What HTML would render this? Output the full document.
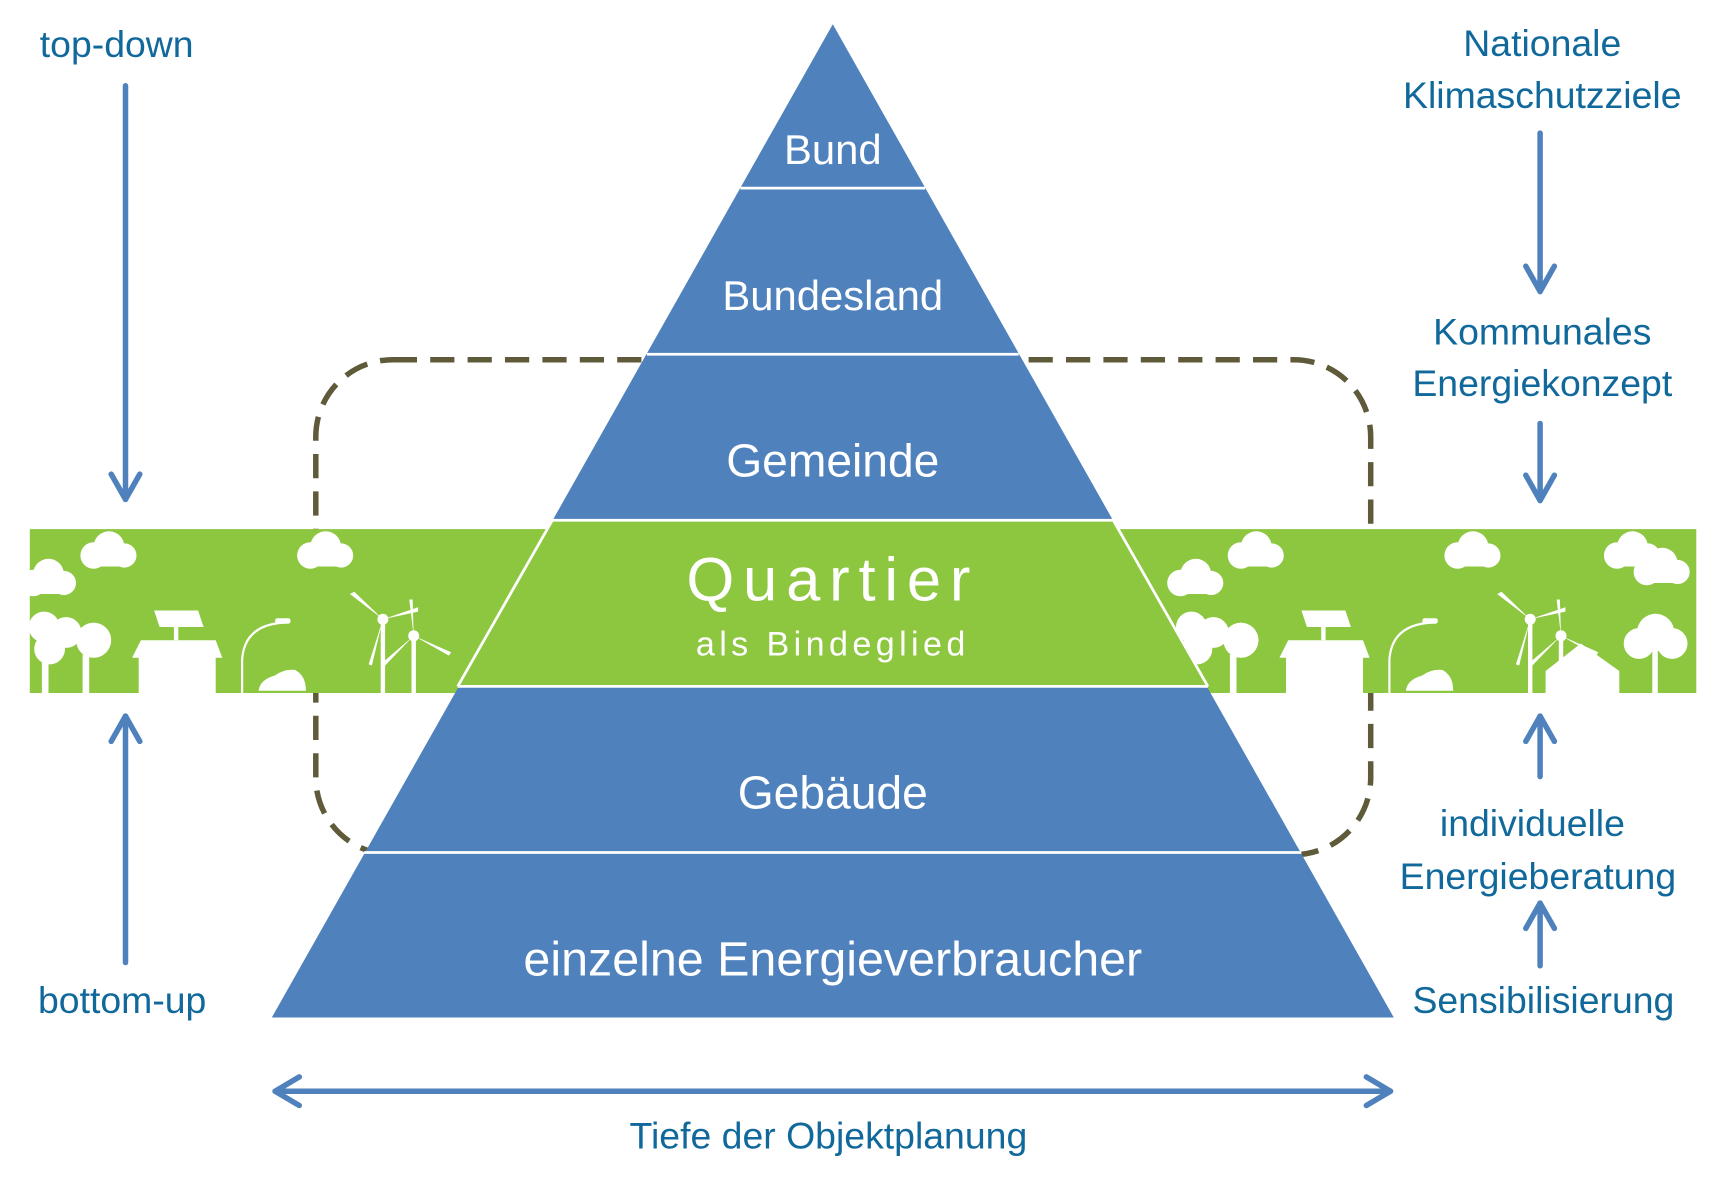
<!DOCTYPE html>
<html><head><meta charset="utf-8"><style>
html,body{margin:0;padding:0;background:#fff;}
svg{display:block;}
text{font-family:"Liberation Sans",sans-serif;}
.t{fill:#10689b;font-size:34px;text-anchor:middle;}
.w{fill:#fff;text-anchor:middle;}
</style></head><body>
<svg width="1725" height="1188" viewBox="0 0 1568 1080" xmlns="http://www.w3.org/2000/svg">
<defs>
<g id="cloud" fill="#fff"><circle cx="0" cy="0" r="12"/><circle cx="14" cy="-8" r="14"/><circle cx="28" cy="0" r="11"/><rect x="-10" y="-2" width="46" height="12" rx="6"/></g>
<g id="scene" fill="#fff">
<use href="#cloud" x="85" y="505"/><use href="#cloud" x="282" y="505"/><use href="#cloud" x="30" y="530"/>
<circle cx="40" cy="570" r="14"/><circle cx="60" cy="575" r="14"/><circle cx="85" cy="582" r="16"/><circle cx="45" cy="590" r="14"/>
<rect x="38" y="590" width="6" height="40"/><rect x="75" y="595" width="6" height="35"/>
<polygon points="128,582 196,582 202,598 196,598 196,630 126,630 126,598 120,598"/>
<rect x="158" y="566" width="4" height="16"/><polygon points="140,555 180,555 185,570 145,570"/>
<path d="M220 630 V600 Q222 568 258 566" stroke="#fff" stroke-width="2" fill="none"/><rect x="250" y="562" width="14" height="5" rx="2"/>
<path d="M235 628 Q236 618 250 614 Q258 608 268 609 Q278 614 278 628 Z"/>
<circle cx="348" cy="563" r="5"/><rect x="346" y="563" width="4" height="67"/>
<polygon points="348,563 318,540 322,538"/><polygon points="348,563 380,552 380,556"/><polygon points="348,563 338,605 335,604"/>
<circle cx="376" cy="578" r="5"/><rect x="374" y="578" width="4" height="52"/>
<polygon points="376,578 372,545 375,545"/><polygon points="376,578 410,593 408,596"/><polygon points="376,578 350,605 348,602"/>
</g>
</defs>
<rect x="287" y="327" width="959" height="450" rx="70" fill="none" stroke="#5f5a3a" stroke-width="5" stroke-dasharray="22 12"/>
<rect x="27" y="481" width="1515" height="149" fill="#8dc63f"/>
<use href="#scene"/>
<g transform="translate(1043,0)"><use href="#scene"/></g>
<use href="#cloud" x="1470" y="505"/><use href="#cloud" x="1497" y="520"/>
<g fill="#fff"><polygon points="1405,610 1437,585 1472,610 1472,630 1405,630"/><circle cx="1505" cy="575" r="17"/><circle cx="1490" cy="585" r="14"/><circle cx="1520" cy="585" r="14"/><rect x="1502" y="590" width="5" height="40"/></g>
<polygon points="757,22 247,925 1267,925" fill="#4f81bd"/>
<polygon points="502,473 1012,473 1098,624 416,624" fill="#8dc63f"/>
<g stroke="#fff" stroke-width="2.5">
<line x1="673" y1="171" x2="841" y2="171"/><line x1="588" y1="322" x2="926" y2="322"/>
<line x1="502" y1="473" x2="1012" y2="473"/><line x1="416" y1="624" x2="1098" y2="624"/>
<line x1="331" y1="775" x2="1183" y2="775"/>
<line x1="502" y1="473" x2="416" y2="624"/><line x1="1012" y1="473" x2="1098" y2="624"/>
</g>
<text class="w" x="757" y="149" font-size="38">Bund</text>
<text class="w" x="757" y="282" font-size="38">Bundesland</text>
<text class="w" x="757" y="433" font-size="42">Gemeinde</text>
<text class="w" x="757" y="546" font-size="56" letter-spacing="8">Quartier</text>
<text class="w" x="757" y="596" font-size="31" letter-spacing="4">als Bindeglied</text>
<text class="w" x="757" y="735" font-size="42">Gebäude</text>
<text class="w" x="757" y="887" font-size="44">einzelne Energieverbraucher</text>
<g stroke="#4f81bd" stroke-width="5" fill="none" stroke-linecap="round" stroke-linejoin="round">
<line x1="114" y1="78" x2="114" y2="454"/><polyline points="101,431 114,454 127,431"/>
<line x1="114" y1="875" x2="114" y2="651"/><polyline points="101,674 114,651 127,674"/>
<line x1="1400" y1="121" x2="1400" y2="265"/><polyline points="1387,242 1400,265 1413,242"/>
<line x1="1400" y1="385" x2="1400" y2="455"/><polyline points="1387,432 1400,455 1413,432"/>
<line x1="1400" y1="706" x2="1400" y2="651"/><polyline points="1387,674 1400,651 1413,674"/>
<line x1="1400" y1="878" x2="1400" y2="821"/><polyline points="1387,844 1400,821 1413,844"/>
<line x1="250" y1="992" x2="1264" y2="992"/><polyline points="272,979 250,992 272,1005"/><polyline points="1242,979 1264,992 1242,1005"/>
</g>
<text class="t" x="106" y="52">top-down</text>
<text class="t" x="111" y="921">bottom-up</text>
<text class="t" x="1402" y="51">Nationale</text>
<text class="t" x="1402" y="98">Klimaschutzziele</text>
<text class="t" x="1402" y="313">Kommunales</text>
<text class="t" x="1402" y="360">Energiekonzept</text>
<text class="t" x="1393" y="760">individuelle</text>
<text class="t" x="1398" y="808">Energieberatung</text>
<text class="t" x="1403" y="921">Sensibilisierung</text>
<text class="t" x="753" y="1044">Tiefe der Objektplanung</text>
</svg>
</body></html>
